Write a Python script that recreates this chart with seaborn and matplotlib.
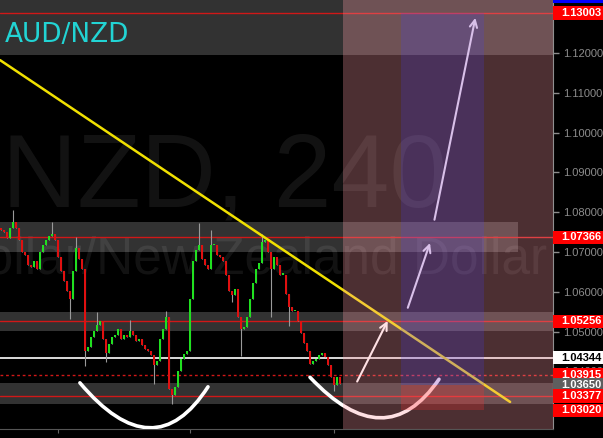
# AUD/NZD 4h chart with trendline, zones and a long position idea
import numpy as np
import seaborn as sns
import matplotlib.pyplot as plt
import matplotlib.transforms as mtransforms
from matplotlib.patches import Rectangle, PathPatch
from matplotlib.path import Path

# candle closes, one per bar
closes = [
    1.0756, 1.0751, 1.0736, 1.0761, 1.0776, 1.0761, 1.0731, 1.0701, 1.0691, 1.0668,
    1.0661, 1.0676, 1.0656, 1.0701, 1.0718, 1.0731, 1.0741, 1.0746, 1.0731, 1.0686,
    1.0651, 1.0626, 1.0601, 1.0581, 1.0651, 1.0711, 1.0681, 1.0656, 1.0451, 1.0461,
    1.0486, 1.0501, 1.0516, 1.0526, 1.0481, 1.0446, 1.0468, 1.0486, 1.0491, 1.0506,
    1.0481, 1.0491, 1.0486, 1.0501, 1.0491, 1.0476, 1.0481, 1.0466, 1.0456, 1.0451,
    1.0441, 1.0416, 1.0426, 1.0481, 1.0506, 1.0536, 1.0356, 1.0341, 1.0361, 1.0401,
    1.0431, 1.0443, 1.0451, 1.0581, 1.0676, 1.0706, 1.0718, 1.0681, 1.0666, 1.0656,
    1.0718, 1.0718, 1.0693, 1.0686, 1.0676, 1.0643, 1.0601, 1.0591, 1.0606, 1.0536,
    1.0506, 1.0511, 1.0536, 1.0581, 1.0621, 1.0656, 1.0671, 1.0726, 1.0731, 1.0701,
    1.0656, 1.0686, 1.0668, 1.0643, 1.0643, 1.0593, 1.0561, 1.0551, 1.0551, 1.0526,
    1.0496, 1.0471, 1.0451, 1.0418, 1.0426, 1.0431, 1.0441, 1.0446, 1.0436, 1.0416,
    1.0386, 1.0366, 1.0386, 1.0368,
]
first_open = 1.0760
# longer wicks (bar -> price)
wick_highs = {4: 1.0806, 17: 1.0776, 25: 1.0738, 32: 1.0548, 43: 1.0528,
              55: 1.0551, 66: 1.0773, 70: 1.0756, 87: 1.0746}
wick_lows = {23: 1.0531, 28: 1.0413, 35: 1.0423, 51: 1.0368, 57: 1.0318,
             77: 1.0573, 80: 1.0438, 90: 1.0536, 96: 1.0513, 111: 1.0351}

# horizontal levels
red_levels = [1.13003, 1.07366, 1.05256, 1.03377]
white_level = 1.04344
dashed_level = 1.03915

# price tags on the right axis: (price, text, face, text colour)
tags = [
    (1.13430, '1.13430', '#0000ff', 'white'),
    (1.13003, '1.13003', '#ff0000', 'white'),
    (1.07366, '1.07366', '#ff0000', 'white'),
    (1.05256, '1.05256', '#ff0000', 'white'),
    (1.04344, '1.04344', '#ffffff', 'black'),
    (1.03915, '1.03915', '#ff0000', 'white'),
    (1.03650, '1.03650', '#5e5e5e', 'white'),
    (1.03377, '1.03377', '#ff0000', 'white'),
    (1.03020, '1.03020', '#ff0000', 'white'),
]

# grey zones: (low, high, right end in bars)
zones = [(1.1195, 1.1340, 184), (1.0700, 1.0775, 172.3),
         (1.0501, 1.0549, 184), (1.0318, 1.0371, 184)]

trend_x = [-0.33, 169.7]
trend_y = [1.1182, 1.0323]

# long position: entry, stop, target
entry, stop, target = 1.0365, 1.0302, 1.13003

ymin, ymax = 1.0255, 1.1333
xmin, xmax = -0.33, 184

sns.set_style('dark', {'axes.facecolor': 'black', 'figure.facecolor': 'black'})
plt.rcParams['font.family'] = ['Liberation Sans', 'DejaVu Sans']

fig = plt.figure(figsize=(6.03, 4.38), dpi=100)
fig.patch.set_facecolor('black')
ax = fig.add_axes([0, 9 / 438, 553 / 603, 429 / 438])
ax.set_facecolor('black')

# watermark
ax.text(0.35, 1.0813, 'NZD, 240', ha='left', va='baseline', fontsize=75,
        color='white', alpha=0.075, zorder=0.5, clip_on=True)
ax.text(182, 1.0645, 'Australian Dollar/New Zealand Dollar', ha='right',
        va='baseline', fontsize=37, color='white', alpha=0.075, zorder=0.5,
        clip_on=True)

# zones
for lo, hi, right in zones:
    ax.add_patch(Rectangle((xmin, lo), right - xmin, hi - lo, color='white',
                           alpha=0.2, lw=0, zorder=1))

# levels
for lv in red_levels:
    ax.axhline(lv, color='#d01818', lw=1, zorder=2)
ax.axhline(white_level, color='white', lw=1.2, zorder=2)
ax.axhline(dashed_level, color='#d01818', lw=1, ls=(0, (2, 2)), zorder=2)

# candles
opens = [first_open] + closes[:-1]
x = np.arange(len(closes))
highs = [wick_highs.get(i, max(o, c)) for i, (o, c) in enumerate(zip(opens, closes))]
lows = [wick_lows.get(i, min(o, c)) for i, (o, c) in enumerate(zip(opens, closes))]
ax.vlines(x, lows, highs, color='#9a9a9a', lw=0.8, zorder=2.9)
up = [c >= o for o, c in zip(opens, closes)]
body = [max(abs(c - o), 0.0003) for o, c in zip(opens, closes)]
bottoms = [min(o, c) for o, c in zip(opens, closes)]
ax.bar(x, body, bottom=bottoms, width=0.65,
       color=['#20e020' if u else '#e01010' for u in up], lw=0, zorder=3)

# trendline
sns.lineplot(x=trend_x, y=trend_y, color='#f0e000', lw=1.8, ax=ax, zorder=4)

# smile curves
for p0, p1, p2 in [((26.3, 1.0371), (51.0, 1.0150), (69.0, 1.0361)),
                   ((103.0, 1.0385), (128.1, 1.01835), (146.0, 1.0380))]:
    path = Path([p0, p1, p2], [Path.MOVETO, Path.CURVE3, Path.CURVE3])
    ax.add_patch(PathPatch(path, fill=False, ec='white', lw=2.6,
                           capstyle='round', zorder=4))

# arrows
for tail, head in [((118.3, 1.0368), (129.3, 1.0533)),
                   ((135.3, 1.0553), (143.3, 1.0729)),
                   ((144.3, 1.0774), (158.3, 1.1295))]:
    ax.annotate('', xy=head, xytext=tail,
                arrowprops=dict(arrowstyle='->', color='white', lw=1.5,
                                mutation_scale=13), zorder=4)

# shaded future area and long position box
ax.add_patch(Rectangle((114, ymin), xmax - 114, ymax - ymin, color=(1.0, 0.62, 0.66),
                       alpha=0.3, lw=0, zorder=5))
ax.add_patch(Rectangle((133.3, entry), 27.7, target - entry, color='#423eff',
                       alpha=0.2, lw=0, zorder=5.1))
ax.add_patch(Rectangle((133.3, stop), 27.7, entry - stop, color='#ff3030',
                       alpha=0.25, lw=0, zorder=5.1))

# symbol label
ax.text(5 / 553, 1.1228, 'AUD/NZD', transform=mtransforms.blended_transform_factory(
    ax.transAxes, ax.transData), fontsize=19, color='#22d4d4',
    family='DejaVu Sans', va='baseline', zorder=6)

ax.set_xlim(xmin, xmax)
ax.set_ylim(ymin, ymax)
ax.set_xlabel('')
ax.set_ylabel('')

# right price axis
ax.yaxis.tick_right()
ticks = [1.03, 1.04, 1.05, 1.06, 1.07, 1.08, 1.09, 1.10, 1.11, 1.12]
ax.set_yticks(ticks)
ax.set_yticklabels([f'{t:.5f}' for t in ticks])
ax.tick_params(axis='y', colors='#8c8c8c', labelsize=8, length=4, width=1, pad=3,
               right=True, left=False)
ax.set_xticks([19, 63, 111])
ax.set_xticklabels([])
ax.tick_params(axis='x', colors='#666666', length=3, bottom=True)
for side in ['left', 'top']:
    ax.spines[side].set_visible(False)
ax.spines['right'].set_color('#909090')
ax.spines['bottom'].set_color('#555555')
ax.grid(False)

trans = mtransforms.blended_transform_factory(ax.transAxes, ax.transData)
h = 0.0034
for price, label, face, fg in tags:
    ax.add_patch(Rectangle((1.0, price - h / 2), 50 / 553, h, transform=trans,
                           color=face, lw=0, clip_on=False, zorder=10))
    ax.text(1.0 + 8 / 553, price, label, transform=trans, va='center', ha='left',
            fontsize=8, fontweight='bold', color=fg, clip_on=False, zorder=11)

fig.savefig('out.png', dpi=100, facecolor='black')
